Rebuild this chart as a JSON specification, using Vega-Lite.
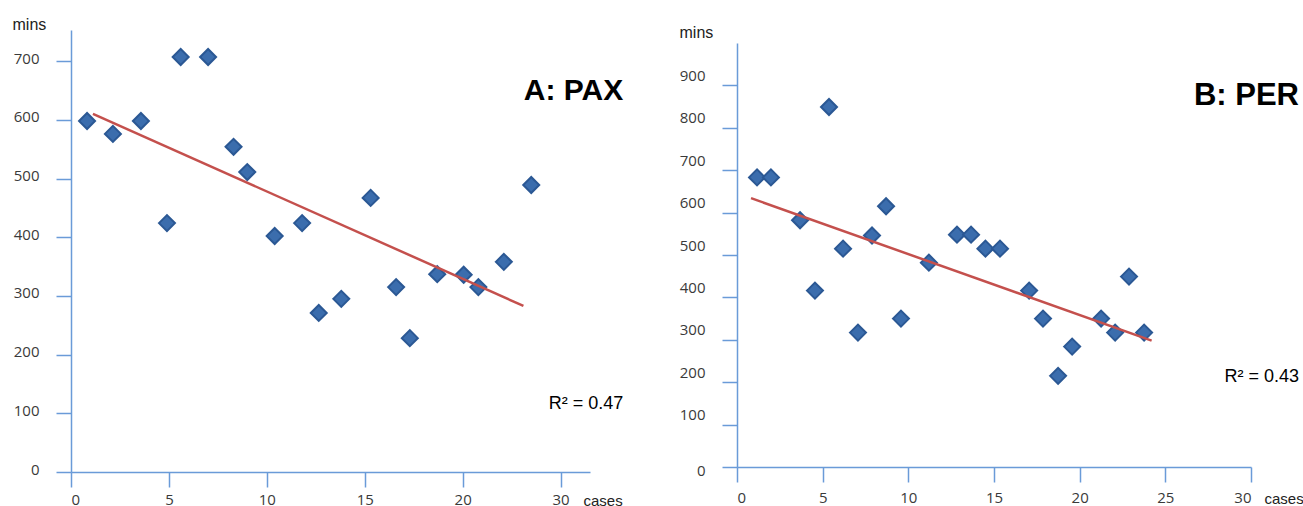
{
  "$schema": "https://vega.github.io/schema/vega-lite/v6.json",
  "padding": {"left": 12, "top": 16, "right": 0, "bottom": 0},
  "background": "white",
  "spacing": 55,
  "config": {
    "view": {"stroke": null},
    "axis": {
      "grid": false,
      "domainColor": "#6A9BD8",
      "tickColor": "#6A9BD8",
      "domainWidth": 1.5,
      "tickWidth": 1.5,
      "tickSize": 15,
      "labelFont": "Open Sans",
      "labelFontSize": 15,
      "labelColor": "#3A3A3A",
      "titleFont": "Liberation Sans",
      "titleFontSize": 15,
      "titleFontWeight": "normal",
      "titleColor": "#222222"
    },
    "axisY": {"labelPadding": 17},
    "axisX": {"labelPadding": 5}
  },
  "datasets": {
    "pax": [
      {"cases": 0.82, "mins": 598},
      {"cases": 2.14, "mins": 576},
      {"cases": 3.57, "mins": 598},
      {"cases": 4.9, "mins": 424},
      {"cases": 5.6, "mins": 707},
      {"cases": 7.0, "mins": 707},
      {"cases": 8.3, "mins": 554},
      {"cases": 9.0, "mins": 511},
      {"cases": 10.4, "mins": 402},
      {"cases": 11.8, "mins": 424},
      {"cases": 12.65, "mins": 271},
      {"cases": 13.8, "mins": 295},
      {"cases": 15.3, "mins": 467},
      {"cases": 16.6, "mins": 315},
      {"cases": 17.3, "mins": 228},
      {"cases": 18.7, "mins": 337},
      {"cases": 20.05, "mins": 336},
      {"cases": 20.8, "mins": 315},
      {"cases": 22.1, "mins": 358},
      {"cases": 23.5, "mins": 489}
    ],
    "paxTrend": [
      {"cases": 1.12, "mins": 610},
      {"cases": 23.1, "mins": 283}
    ],
    "per": [
      {"cases": 1.17, "mins": 683},
      {"cases": 1.98, "mins": 683},
      {"cases": 3.68, "mins": 582},
      {"cases": 4.55, "mins": 416},
      {"cases": 5.37, "mins": 849},
      {"cases": 6.19, "mins": 515},
      {"cases": 7.06, "mins": 317},
      {"cases": 7.88, "mins": 546},
      {"cases": 8.7, "mins": 615},
      {"cases": 9.57, "mins": 350},
      {"cases": 11.2, "mins": 482},
      {"cases": 12.84, "mins": 548},
      {"cases": 13.66, "mins": 548},
      {"cases": 14.5, "mins": 515},
      {"cases": 15.35, "mins": 515},
      {"cases": 17.05, "mins": 416},
      {"cases": 17.86, "mins": 350},
      {"cases": 18.74, "mins": 215},
      {"cases": 19.56, "mins": 284},
      {"cases": 21.25, "mins": 350},
      {"cases": 22.07, "mins": 317},
      {"cases": 22.88, "mins": 449},
      {"cases": 23.76, "mins": 317}
    ],
    "perTrend": [
      {"cases": 0.82, "mins": 634},
      {"cases": 24.2, "mins": 298}
    ],
    "labels": [
      {"panel": "A", "title": "A: PAX", "r2": "R² = 0.47"},
      {"panel": "B", "title": "B: PER", "r2": "R² = 0.43"}
    ]
  },
  "hconcat": [
    {
      "width": 519,
      "height": 442,
      "layer": [
        {
          "data": {"name": "pax"},
          "mark": {"type": "point", "shape": "diamond", "filled": true, "size": 256, "fill": "#3B6DAD", "stroke": "#2B5894", "strokeWidth": 2, "opacity": 1},
          "encoding": {
            "x": {
              "field": "cases", "type": "quantitative",
              "scale": {"domain": [0, 26.5], "nice": false, "zero": false},
              "axis": {
                "values": [0, 5, 10, 15, 20, 25],
                "labelExpr": "datum.value == 25 ? '30' : datum.label",
                "title": "cases",
                "titleX": 512, "titleY": 28,
                "titleAlign": "left", "titleBaseline": "middle", "titleAnchor": null
              }
            },
            "y": {
              "field": "mins", "type": "quantitative",
              "scale": {"domain": [0, 753], "nice": false},
              "axis": {
                "values": [0, 100, 200, 300, 400, 500, 600, 700],
                "labelOffset": -3,
                "title": "mins",
                "titleFontSize": 16,
                "titleAngle": 0,
                "titleX": -59, "titleY": -6,
                "titleAlign": "left", "titleBaseline": "middle", "titleAnchor": null
              }
            }
          }
        },
        {
          "data": {"name": "paxTrend"},
          "mark": {"type": "line", "color": "#C4504D", "strokeWidth": 2.5},
          "encoding": {
            "x": {"field": "cases", "type": "quantitative"},
            "y": {"field": "mins", "type": "quantitative"}
          }
        },
        {
          "data": {"name": "labels"},
          "transform": [{"filter": "datum.panel == 'A'"}],
          "mark": {"type": "text", "font": "Liberation Sans", "fontWeight": "bold", "fontSize": 30, "align": "right", "baseline": "middle", "color": "#000000"},
          "encoding": {
            "x": {"datum": 28.2, "type": "quantitative"},
            "y": {"datum": 649, "type": "quantitative"},
            "text": {"field": "title", "type": "nominal"}
          }
        },
        {
          "data": {"name": "labels"},
          "transform": [{"filter": "datum.panel == 'A'"}],
          "mark": {"type": "text", "font": "Liberation Sans", "fontSize": 18, "align": "right", "baseline": "middle", "color": "#000000"},
          "encoding": {
            "x": {"datum": 28.2, "type": "quantitative"},
            "y": {"datum": 116, "type": "quantitative"},
            "text": {"field": "r2", "type": "nominal"}
          }
        }
      ]
    },
    {
      "width": 514,
      "height": 437,
      "layer": [
        {
          "data": {"name": "per"},
          "mark": {"type": "point", "shape": "diamond", "filled": true, "size": 256, "fill": "#3B6DAD", "stroke": "#2B5894", "strokeWidth": 2, "opacity": 1},
          "encoding": {
            "x": {
              "field": "cases", "type": "quantitative",
              "scale": {"domain": [0, 30], "nice": false, "zero": false},
              "axis": {
                "values": [0, 5, 10, 15, 20, 25, 30],
                "labelPadding": 8,
                "title": "cases",
                "titleX": 527, "titleY": 31,
                "titleAlign": "left", "titleBaseline": "middle", "titleAnchor": null
              }
            },
            "y": {
              "field": "mins", "type": "quantitative",
              "scale": {"domain": [0, 1000], "nice": false, "range": [437, 13]},
              "axis": {
                "values": [0, 100, 200, 300, 400, 500, 600, 700, 800, 900],
                "labelOffset": {"condition": {"test": "datum.value === 0", "value": 3}, "value": -10},
                "title": "mins",
                "titleFontSize": 16,
                "titleAngle": 0,
                "titleX": -58, "titleY": 2,
                "titleAlign": "left", "titleBaseline": "middle", "titleAnchor": null
              }
            }
          }
        },
        {
          "data": {"name": "perTrend"},
          "mark": {"type": "line", "color": "#C4504D", "strokeWidth": 2.5},
          "encoding": {
            "x": {"field": "cases", "type": "quantitative"},
            "y": {"field": "mins", "type": "quantitative"}
          }
        },
        {
          "data": {"name": "labels"},
          "transform": [{"filter": "datum.panel == 'B'"}],
          "mark": {"type": "text", "font": "Liberation Sans", "fontWeight": "bold", "fontSize": 31, "align": "right", "baseline": "middle", "color": "#000000"},
          "encoding": {
            "x": {"datum": 32.8, "type": "quantitative"},
            "y": {"datum": 875, "type": "quantitative"},
            "text": {"field": "title", "type": "nominal"}
          }
        },
        {
          "data": {"name": "labels"},
          "transform": [{"filter": "datum.panel == 'B'"}],
          "mark": {"type": "text", "font": "Liberation Sans", "fontSize": 18, "align": "right", "baseline": "middle", "color": "#000000"},
          "encoding": {
            "x": {"datum": 32.8, "type": "quantitative"},
            "y": {"datum": 213, "type": "quantitative"},
            "text": {"field": "r2", "type": "nominal"}
          }
        }
      ]
    }
  ],
  "resolve": {"scale": {"x": "independent", "y": "independent"}}
}
